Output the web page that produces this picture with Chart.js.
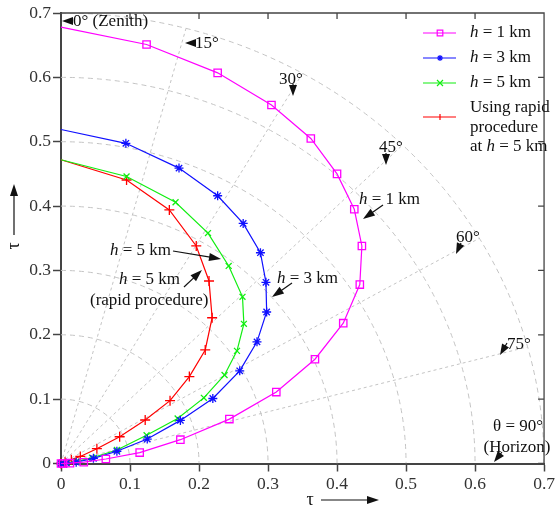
<!DOCTYPE html>
<html lang="en">
<head>
  <meta charset="UTF-8">
  <title>Polar tau chart</title>
  <script src="https://cdn.jsdelivr.net/npm/chart.js"></script>
  <style>
    body { margin: 0; padding: 0; background: #fff; }
    canvas { display: block; }
  </style>
</head>
<body>
  <canvas id="tauChart" width="557" height="510"></canvas>
  <script>
    // tick labels on both axes
    const tickLabels = ['0', '0.1', '0.2', '0.3', '0.4', '0.5', '0.6', '0.7'];
    // polar grid: radii and zenith angles (deg)
    const gridRadii = [0.1, 0.2, 0.3, 0.4, 0.5, 0.6, 0.7];
    const gridAngles = [15, 30, 45, 60, 75];

    // h = 1 km
    const h1X = [0, 0.124, 0.227, 0.305, 0.362, 0.400, 0.425, 0.436, 0.433, 0.409, 0.368, 0.312, 0.244, 0.173, 0.114, 0.065, 0.033, 0.013, 0.003, 0];
    const h1Y = [0.678, 0.651, 0.607, 0.557, 0.505, 0.450, 0.395, 0.338, 0.278, 0.218, 0.162, 0.111, 0.069, 0.037, 0.017, 0.007, 0.002, 0.0005, 0, 0];
    // h = 3 km
    const h3X = [0, 0.094, 0.171, 0.227, 0.264, 0.289, 0.297, 0.298, 0.284, 0.259, 0.220, 0.173, 0.125, 0.081, 0.047, 0.022, 0.008, 0];
    const h3Y = [0.519, 0.4975, 0.459, 0.416, 0.373, 0.3275, 0.2815, 0.2354, 0.189, 0.144, 0.101, 0.067, 0.038, 0.019, 0.008, 0.002, 0.0005, 0];
    // h = 5 km
    const h5X = [0, 0.095, 0.166, 0.213, 0.243, 0.263, 0.265, 0.255, 0.237, 0.207, 0.169, 0.124, 0.081, 0.045, 0.022, 0.008, 0];
    const h5Y = [0.472, 0.446, 0.406, 0.358, 0.307, 0.259, 0.217, 0.175, 0.1375, 0.102, 0.070, 0.044, 0.021, 0.009, 0.003, 0.001, 0];
    // rapid procedure at h = 5 km
    const rapidX = [0, 0.095, 0.157, 0.196, 0.2145, 0.219, 0.209, 0.186, 0.158, 0.122, 0.085, 0.052, 0.028, 0.015, 0.006, 0];
    const rapidY = [0.472, 0.4405, 0.394, 0.338, 0.2836, 0.2265, 0.1764, 0.135, 0.0976, 0.0676, 0.0416, 0.023, 0.011, 0.006, 0.002, 0];

    const serif = "'Liberation Serif', 'Times New Roman', serif";
    const txt = '17px ' + serif;
    const toPts = (xs, ys) => xs.map((x, i) => ({ x: x, y: ys[i] }));

    function series(label, xs, ys, color, style, radius) {
      return {
        label: label,
        data: toPts(xs, ys),
        showLine: true,
        borderColor: color,
        borderWidth: 1.2,
        backgroundColor: color,
        pointStyle: style,
        pointBorderColor: color,
        pointBackgroundColor: 'rgba(0,0,0,0)',
        pointBorderWidth: 1.3,
        pointRadius: ctx => ctx.dataIndex === 0 ? 0 : radius,
        tension: 0,
        clip: false
      };
    }

    function arrow(ctx, x1, y1, x2, y2, len, half) {
      const a = Math.atan2(y2 - y1, x2 - x1);
      ctx.beginPath();
      ctx.moveTo(x1, y1);
      ctx.lineTo(x2 - Math.cos(a) * len * 0.8, y2 - Math.sin(a) * len * 0.8);
      ctx.stroke();
      ctx.beginPath();
      ctx.moveTo(x2, y2);
      ctx.lineTo(x2 - Math.cos(a) * len + Math.sin(a) * half, y2 - Math.sin(a) * len - Math.cos(a) * half);
      ctx.lineTo(x2 - Math.cos(a) * len - Math.sin(a) * half, y2 - Math.sin(a) * len + Math.cos(a) * half);
      ctx.closePath();
      ctx.fill();
    }

    // draws "h = ... km" with an italic h, starting at x
    function hText(ctx, x, y, rest) {
      ctx.textAlign = 'left';
      ctx.font = 'italic ' + txt;
      ctx.fillText('h', x, y);
      const w = ctx.measureText('h').width;
      ctx.font = txt;
      ctx.fillText(rest, x + w, y);
    }

    function marker(ctx, style, x, y, r, color) {
      ctx.strokeStyle = color;
      ctx.lineWidth = 1.2;
      ctx.beginPath();
      if (style === 'rect') {
        ctx.rect(x - r, y - r, 2 * r, 2 * r);
      } else if (style === 'star') {
        for (let k = 0; k < 4; k++) {
          const a = k * Math.PI / 4;
          ctx.moveTo(x - Math.cos(a) * r, y - Math.sin(a) * r);
          ctx.lineTo(x + Math.cos(a) * r, y + Math.sin(a) * r);
        }
      } else if (style === 'crossRot') {
        ctx.moveTo(x - r, y - r); ctx.lineTo(x + r, y + r);
        ctx.moveTo(x - r, y + r); ctx.lineTo(x + r, y - r);
      } else {
        ctx.moveTo(x, y - r); ctx.lineTo(x, y + r);
      }
      ctx.stroke();
    }

    const polarGrid = {
      id: 'polarGrid',
      beforeDatasetsDraw(chart) {
        const ctx = chart.ctx;
        const xs = chart.scales.x, ys = chart.scales.y;
        const ox = xs.getPixelForValue(0), oy = ys.getPixelForValue(0);
        const a = chart.chartArea;
        ctx.save();
        ctx.beginPath();
        ctx.rect(a.left, a.top, a.right - a.left, a.bottom - a.top);
        ctx.clip();
        ctx.strokeStyle = '#c4c4c4';
        ctx.lineWidth = 1;
        ctx.setLineDash([5, 4]);
        gridRadii.forEach(r => {
          const rx = xs.getPixelForValue(r) - ox;
          const ry = oy - ys.getPixelForValue(r);
          ctx.beginPath();
          ctx.ellipse(ox, oy, rx, ry, 0, -Math.PI / 2, 0);
          ctx.stroke();
        });
        ctx.setLineDash([3, 3]);
        const rMax = gridRadii[gridRadii.length - 1];
        gridAngles.forEach(d => {
          const t = d * Math.PI / 180;
          ctx.beginPath();
          ctx.moveTo(ox, oy);
          ctx.lineTo(xs.getPixelForValue(rMax * Math.sin(t)), ys.getPixelForValue(rMax * Math.cos(t)));
          ctx.stroke();
        });
        ctx.restore();
      },
      afterDraw(chart) {
        const ctx = chart.ctx;
        const a = chart.chartArea;
        const xs = chart.scales.x, ys = chart.scales.y;
        ctx.save();
        // top and right frame with inward ticks
        ctx.strokeStyle = '#444';
        ctx.lineWidth = 1.3;
        ctx.beginPath();
        ctx.moveTo(a.left, a.top); ctx.lineTo(a.right, a.top); ctx.lineTo(a.right, a.bottom);
        tickLabels.forEach((t, i) => {
          const v = i / 10;
          const px = xs.getPixelForValue(v), py = ys.getPixelForValue(v);
          ctx.moveTo(px, a.top); ctx.lineTo(px, a.top + 6);
          ctx.moveTo(a.right, py); ctx.lineTo(a.right - 6, py);
        });
        ctx.stroke();

        ctx.fillStyle = '#111';
        ctx.strokeStyle = '#111';
        ctx.lineWidth = 1.2;
        ctx.textBaseline = 'middle';

        // angle labels
        ctx.font = txt;
        ctx.textAlign = 'left';
        ctx.fillText('0° (Zenith)', 73, 22);
        arrow(ctx, 73, 21, 62, 21, 11, 4);
        ctx.fillText('15°', 195, 44);
        arrow(ctx, 196, 43, 185, 43, 11, 4);
        ctx.textAlign = 'center';
        ctx.fillText('30°', 291, 80);
        arrow(ctx, 293, 84, 293, 96, 11, 4);
        ctx.fillText('45°', 391, 148);
        arrow(ctx, 386, 153, 386, 165, 11, 4);
        ctx.fillText('60°', 468, 238);
        arrow(ctx, 461, 243, 456, 254, 11, 4);
        ctx.fillText('75°', 519, 345);
        arrow(ctx, 507, 343, 500, 355, 11, 4);
        ctx.fillText('θ = 90°', 518, 427);
        ctx.fillText('(Horizon)', 517, 448);
        arrow(ctx, 502, 452, 494, 462, 11, 4);

        // curve annotations
        hText(ctx, 110, 251, ' = 5 km');
        arrow(ctx, 173, 251, 221, 259, 12, 4);
        hText(ctx, 119, 280, ' = 5 km');
        arrow(ctx, 184, 287, 202, 270, 12, 4);
        ctx.textAlign = 'left';
        ctx.fillText('(rapid procedure)', 90, 301);
        hText(ctx, 277, 279, ' = 3 km');
        arrow(ctx, 292, 283, 272, 297, 12, 4);
        hText(ctx, 359, 200, ' = 1 km');
        arrow(ctx, 383, 205, 363, 219, 12, 4);

        // axis titles
        ctx.font = '18px ' + serif;
        ctx.textAlign = 'center';
        ctx.fillText('τ', 310, 500);
        arrow(ctx, 321, 500, 379, 500, 12, 4);
        ctx.save();
        ctx.translate(14, 246);
        ctx.rotate(-Math.PI / 2);
        ctx.fillText('τ', 0, 0);
        ctx.restore();
        arrow(ctx, 14, 235, 14, 184, 12, 4);

        // legend
        const items = chart.data.datasets;
        const rows = [33, 58, 83, 117];
        items.forEach((ds, i) => {
          const y = rows[i];
          ctx.strokeStyle = ds.borderColor;
          ctx.lineWidth = 1.2;
          ctx.beginPath();
          ctx.moveTo(423, y); ctx.lineTo(456, y);
          ctx.stroke();
          const st = ds.pointStyle;
          marker(ctx, st, 440, y, st === 'rect' ? 2.8 : 3, ds.borderColor);
        });
        ctx.fillStyle = '#111';
        hText(ctx, 470, 33, ' = 1 km');
        hText(ctx, 470, 58, ' = 3 km');
        hText(ctx, 470, 83, ' = 5 km');
        ctx.fillText('Using rapid', 470, 108);
        ctx.fillText('procedure', 470, 128);
        ctx.font = txt;
        const w = ctx.measureText('at ').width;
        ctx.fillText('at ', 470, 147);
        hText(ctx, 470 + w, 147, ' = 5 km');
        ctx.restore();
      }
    };

    const axisStyle = (afterFit) => ({
      type: 'linear',
      min: 0,
      max: 0.7,
      afterFit: afterFit,
      ticks: {
        stepSize: 0.1,
        color: '#333',
        padding: 2,
        font: { family: serif, size: 17.5 },
        callback: v => tickLabels[Math.round(v * 10)]
      },
      grid: {
        drawOnChartArea: false,
        tickLength: 8,
        tickColor: '#444',
        tickWidth: 1.5
      },
      border: { color: '#444', width: 2 }
    });

    new Chart(document.getElementById('tauChart'), {
      type: 'scatter',
      data: {
        datasets: [
          series('h = 1 km', h1X, h1Y, '#ff00ff', 'rect', 5.2),
          series('h = 3 km', h3X, h3Y, '#1010ff', 'star', 4.5),
          series('h = 5 km', h5X, h5Y, '#11ee11', 'crossRot', 4.2),
          series('Using rapid procedure at h = 5 km', rapidX, rapidY, '#ff0000', 'cross', 5)
        ]
      },
      options: {
        responsive: false,
        animation: false,
        devicePixelRatio: 1,
        layout: { padding: { left: 0, top: 13, right: 3, bottom: 0 } },
        scales: {
          x: axisStyle(s => { s.height = 46.5; }),
          y: axisStyle(s => { s.width = 61; })
        },
        plugins: {
          legend: { display: false },
          tooltip: { enabled: false }
        }
      },
      plugins: [polarGrid]
    });
  </script>
</body>
</html>
